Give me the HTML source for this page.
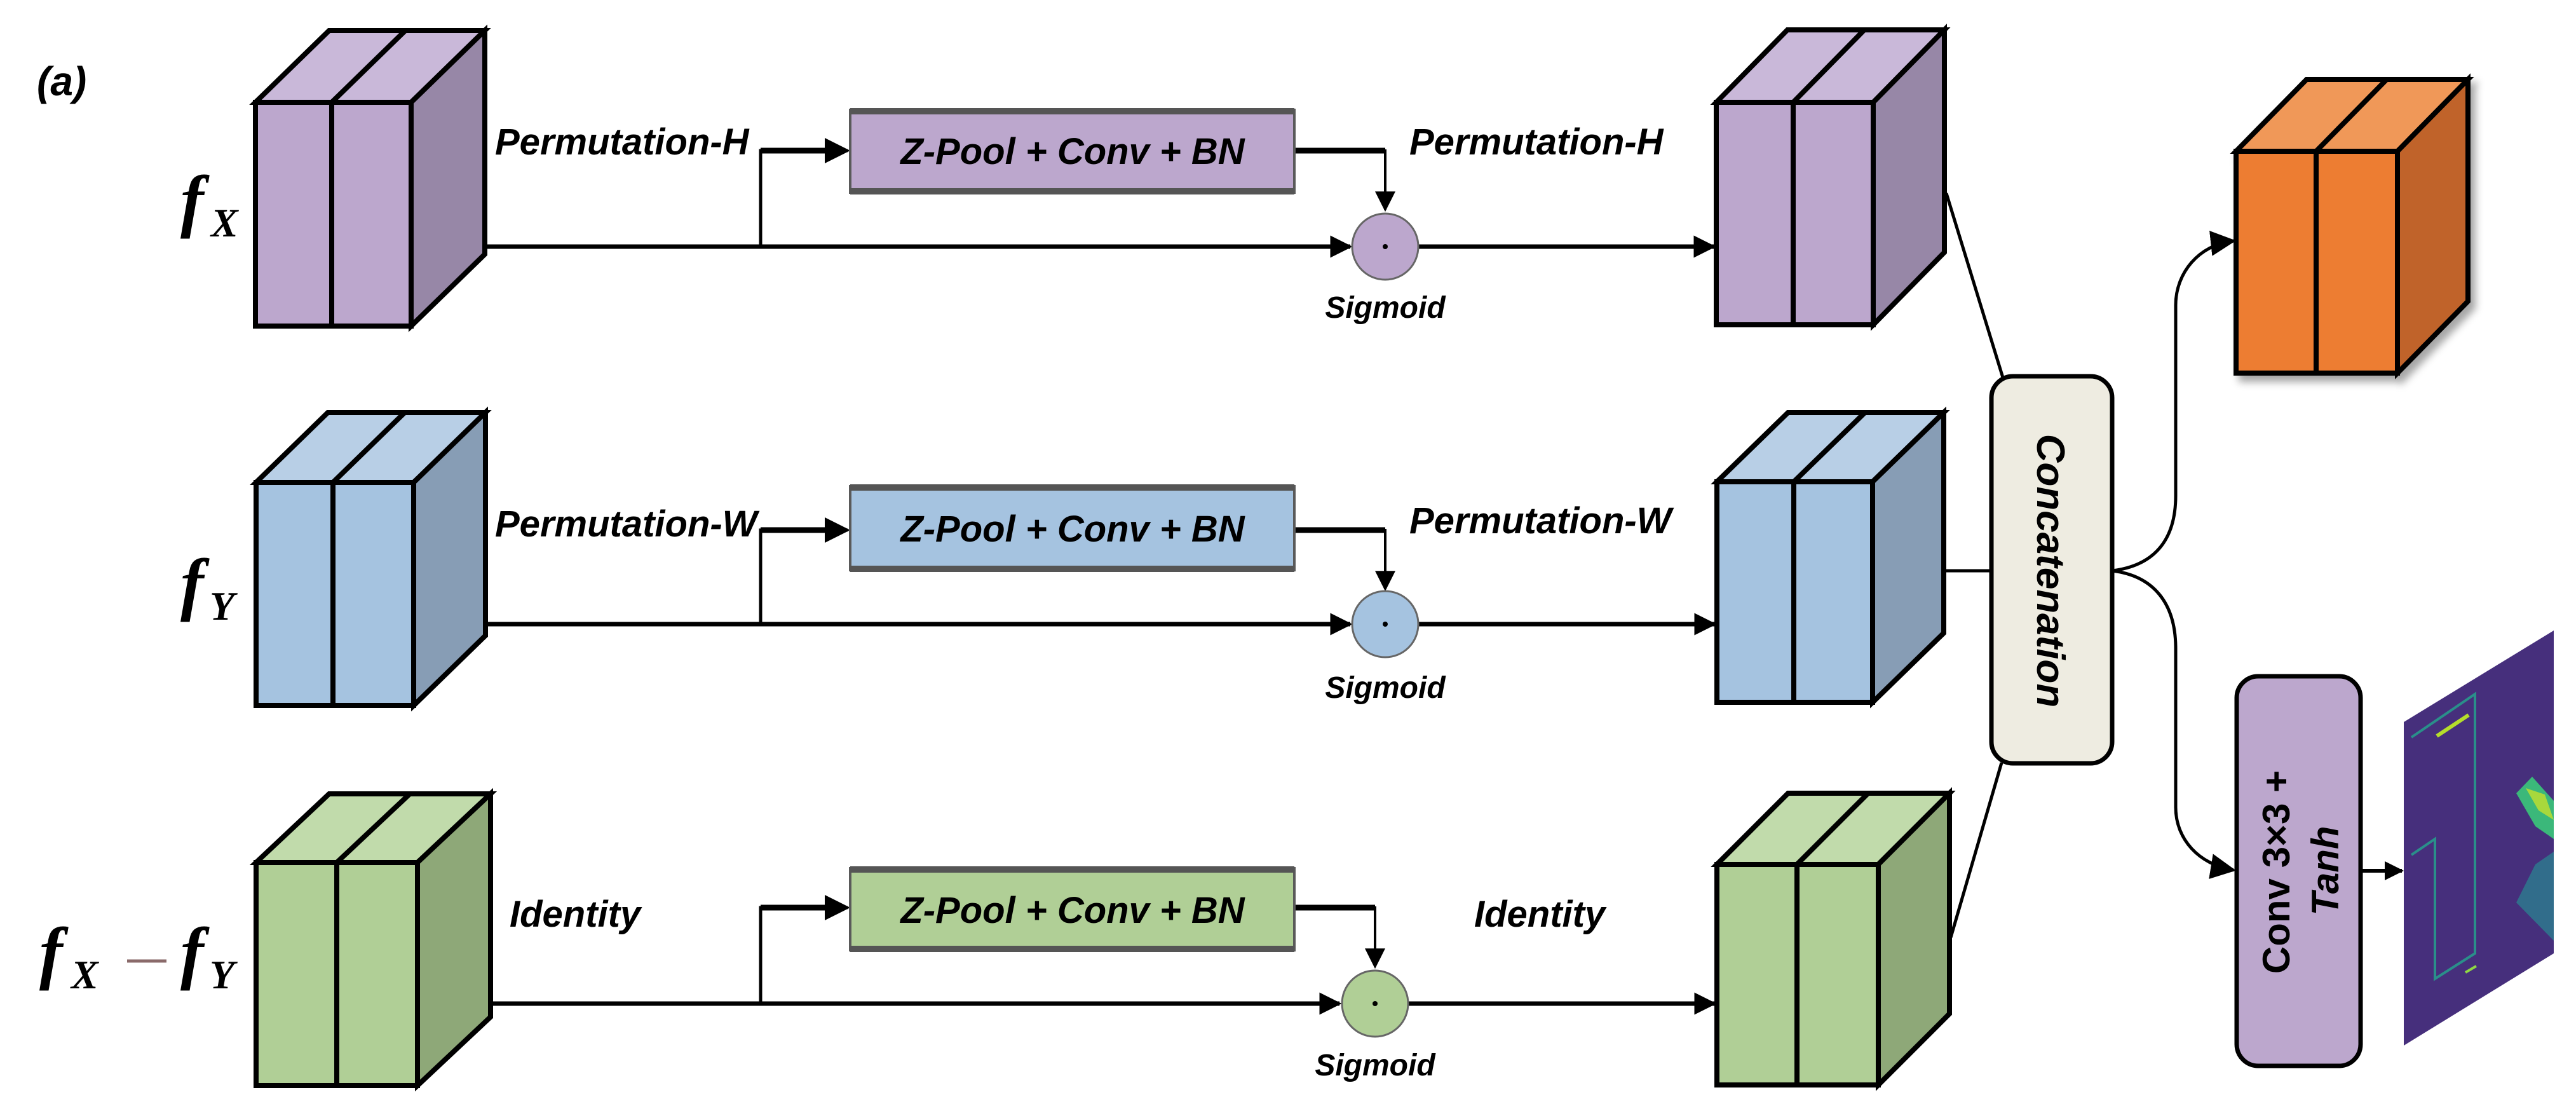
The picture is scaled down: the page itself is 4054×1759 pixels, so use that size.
<!DOCTYPE html>
<html><head><meta charset="utf-8"><style>
html,body{margin:0;padding:0;background:#fff;}
svg{display:block;}
text{font-family:"Liberation Sans",sans-serif;font-weight:bold;font-style:italic;fill:#000;}
.f{font-family:"Liberation Serif",serif;font-weight:bold;font-style:italic;}
</style></head><body>
<svg width="4054" height="1759" viewBox="0 0 4054 1759" xmlns="http://www.w3.org/2000/svg">
<defs>
<marker id="ah" viewBox="0 0 10 10" refX="9" refY="5" markerWidth="5" markerHeight="5" markerUnits="strokeWidth" orient="auto"><path d="M0,0 L10,5 L0,10 z" fill="#000"/></marker>
<marker id="ahs" viewBox="0 0 10 10" refX="9" refY="5" markerWidth="8" markerHeight="8" markerUnits="strokeWidth" orient="auto"><path d="M0,0 L10,5 L0,10 z" fill="#000"/></marker>
<filter id="sh" x="-10%" y="-10%" width="130%" height="130%"><feDropShadow dx="8" dy="10" stdDeviation="6" flood-color="#000" flood-opacity="0.35"/></filter>
</defs>

<text x="58" y="150" font-size="64">(a)</text>

<!-- input cubes -->
<g stroke="#000" stroke-width="8" stroke-linejoin="miter">
 <!-- A purple -->
 <polygon points="402,161 518,48 763,48 647,161" fill="#c9b8d9"/>
 <polygon points="647,161 763,48 763,400 647,513" fill="#9787a7"/>
 <rect x="402" y="161" width="245" height="352" fill="#bca7cd"/>
 <line x1="522" y1="161" x2="522" y2="513"/><line x1="522" y1="161" x2="638" y2="48"/>
 <!-- B blue -->
 <polygon points="403,759 516,649 764,649 651,759" fill="#b8cfe6"/>
 <polygon points="651,759 764,649 764,1000 651,1110" fill="#879db5"/>
 <rect x="403" y="759" width="248" height="351" fill="#a5c3e0"/>
 <line x1="524" y1="759" x2="524" y2="1110"/><line x1="524" y1="759" x2="637" y2="649"/>
 <!-- C green -->
 <polygon points="403,1357 518,1249 772,1249 657,1357" fill="#c1dbab"/>
 <polygon points="657,1357 772,1249 772,1600 657,1708" fill="#8ea878"/>
 <rect x="403" y="1357" width="254" height="351" fill="#b0cf96"/>
 <line x1="530" y1="1357" x2="530" y2="1708"/><line x1="530" y1="1357" x2="645" y2="1249"/>

 <!-- D purple out -->
 <polygon points="2701,161 2813,47 3060,47 2948,161" fill="#c9b8d9"/>
 <polygon points="2948,161 3060,47 3060,397 2948,511" fill="#9787a7"/>
 <rect x="2701" y="161" width="247" height="350" fill="#bca7cd"/>
 <line x1="2822" y1="161" x2="2822" y2="511"/><line x1="2822" y1="161" x2="2934" y2="47"/>
 <!-- E blue out -->
 <polygon points="2702,758 2814,649 3059,649 2947,758" fill="#b8cfe6"/>
 <polygon points="2947,758 3059,649 3059,996 2947,1105" fill="#879db5"/>
 <rect x="2702" y="758" width="245" height="347" fill="#a5c3e0"/>
 <line x1="2823" y1="758" x2="2823" y2="1105"/><line x1="2823" y1="758" x2="2935" y2="649"/>
 <!-- F green out -->
 <polygon points="2702,1360 2814,1248 3068,1248 2956,1360" fill="#c1dbab"/>
 <polygon points="2956,1360 3068,1248 3068,1595 2956,1707" fill="#8ea878"/>
 <rect x="2702" y="1360" width="254" height="347" fill="#b0cf96"/>
 <line x1="2828" y1="1360" x2="2828" y2="1707"/><line x1="2828" y1="1360" x2="2940" y2="1248"/>
 <!-- G orange -->
 <g filter="url(#sh)">
 <polygon points="3519,238 3630,125 3884,125 3773,238" fill="#f09858"/>
 <polygon points="3773,238 3884,125 3884,474 3773,587" fill="#c0632a"/>
 <rect x="3519" y="238" width="254" height="349" fill="#ed7d31"/>
 <line x1="3645" y1="238" x2="3645" y2="587"/><line x1="3645" y1="238" x2="3756" y2="125"/>
 </g>
</g>

<!-- labels f -->
<text class="f" x="284" y="352" font-size="110">f</text><text class="f" x="332" y="372" font-size="64">X</text>
<text class="f" x="284" y="955" font-size="110">f</text><text class="f" x="330" y="975" font-size="64">Y</text>
<text class="f" x="62" y="1535" font-size="110">f</text><text class="f" x="112" y="1555" font-size="64">X</text>
<line x1="200" y1="1512" x2="262" y2="1512" stroke="#8a6a6a" stroke-width="5"/>
<text class="f" x="284" y="1535" font-size="110">f</text><text class="f" x="330" y="1555" font-size="64">Y</text>

<!-- Rows -->
<g stroke="#000" fill="none">
 <!-- row1 -->
 <line x1="765" y1="388" x2="2125" y2="388" stroke-width="7" marker-end="url(#ah)"/>
 <polyline points="1197,388 1197,237 1334,237" stroke-width="5" marker-end="url(#ahs)"/>
 <polyline points="2037,237 2180,237 2180,330" stroke-width="4" marker-end="url(#ahs)"/>
 <line x1="2232" y1="388" x2="2697" y2="388" stroke-width="7" marker-end="url(#ah)"/>
 <line x1="2037" y1="237" x2="2180" y2="237" stroke-width="9"/>
 <line x1="1197" y1="237" x2="1300" y2="237" stroke-width="9"/>
 <!-- row2 -->
 <line x1="766" y1="982" x2="2125" y2="982" stroke-width="7" marker-end="url(#ah)"/>
 <polyline points="1197,982 1197,834 1334,834" stroke-width="5" marker-end="url(#ahs)"/>
 <polyline points="2037,834 2180,834 2180,927" stroke-width="4" marker-end="url(#ahs)"/>
 <line x1="2232" y1="982" x2="2698" y2="982" stroke-width="7" marker-end="url(#ah)"/>
 <line x1="2037" y1="834" x2="2180" y2="834" stroke-width="9"/>
 <line x1="1197" y1="834" x2="1300" y2="834" stroke-width="9"/>
 <!-- row3 -->
 <line x1="774" y1="1579" x2="2108" y2="1579" stroke-width="7" marker-end="url(#ah)"/>
 <polyline points="1197,1579 1197,1428 1334,1428" stroke-width="5" marker-end="url(#ahs)"/>
 <polyline points="2037,1428 2164,1428 2164,1521" stroke-width="4" marker-end="url(#ahs)"/>
 <line x1="2216" y1="1579" x2="2698" y2="1579" stroke-width="7" marker-end="url(#ah)"/>
 <line x1="2037" y1="1428" x2="2164" y2="1428" stroke-width="9"/>
 <line x1="1197" y1="1428" x2="1300" y2="1428" stroke-width="9"/>

 <!-- to concat -->
 <line x1="3063" y1="304" x2="3152" y2="594" stroke-width="5"/>
 <line x1="3061" y1="898" x2="3134" y2="898" stroke-width="5"/>
 <line x1="3150" y1="1200" x2="3070" y2="1475" stroke-width="5"/>
 <!-- branches -->
 <path d="M3324,898 C3390,890 3424,850 3424,780 L3424,480 C3424,430 3460,385 3515,379" stroke-width="5" marker-end="url(#ahs)"/>
 <path d="M3324,898 C3390,906 3424,950 3424,1020 L3424,1270 C3424,1320 3460,1360 3515,1369" stroke-width="5" marker-end="url(#ahs)"/>
 <line x1="3715" y1="1370" x2="3780" y2="1370" stroke-width="6" marker-end="url(#ah)"/>
</g>

<!-- Z-Pool boxes -->
<g stroke-width="0">
 <rect x="1338" y="173" width="699" height="130" fill="#bca7cd" stroke="#5a5a5a" stroke-width="4"/>
 <rect x="1338" y="170" width="699" height="10" fill="#555"/><rect x="1338" y="296" width="699" height="10" fill="#555"/>
 <rect x="1338" y="765" width="699" height="132" fill="#a5c3e0" stroke="#5a5a5a" stroke-width="4"/>
 <rect x="1338" y="762" width="699" height="10" fill="#555"/><rect x="1338" y="890" width="699" height="10" fill="#555"/>
 <rect x="1338" y="1366" width="699" height="129" fill="#b0cf96" stroke="#5a5a5a" stroke-width="4"/>
 <rect x="1338" y="1363" width="699" height="10" fill="#555"/><rect x="1338" y="1488" width="699" height="10" fill="#555"/>
</g>
<text x="1688" y="258" font-size="58" text-anchor="middle">Z-Pool + Conv + BN</text>
<text x="1688" y="852" font-size="58" text-anchor="middle">Z-Pool + Conv + BN</text>
<text x="1688" y="1452" font-size="58" text-anchor="middle">Z-Pool + Conv + BN</text>

<!-- circles -->
<g stroke="#666" stroke-width="3">
 <circle cx="2180" cy="388" r="52" fill="#bca7cd"/>
 <circle cx="2180" cy="982" r="52" fill="#a5c3e0"/>
 <circle cx="2164" cy="1579" r="52" fill="#b0cf96"/>
</g>
<g fill="#000"><circle cx="2180" cy="388" r="4"/><circle cx="2180" cy="982" r="4"/><circle cx="2164" cy="1579" r="4"/></g>
<text x="2180" y="500" font-size="48" text-anchor="middle">Sigmoid</text>
<text x="2180" y="1098" font-size="48" text-anchor="middle">Sigmoid</text>
<text x="2164" y="1692" font-size="48" text-anchor="middle">Sigmoid</text>

<text x="779" y="243" font-size="58">Permutation-H</text>
<text x="2218" y="243" font-size="58">Permutation-H</text>
<text x="779" y="844" font-size="58">Permutation-W</text>
<text x="2218" y="839" font-size="58">Permutation-W</text>
<text x="802" y="1458" font-size="58">Identity</text>
<text x="2320" y="1458" font-size="58">Identity</text>

<!-- concat -->
<rect x="3134" y="592" width="190" height="609" rx="34" fill="#eeece1" stroke="#000" stroke-width="7"/>
<text transform="translate(3206,898) rotate(90)" font-size="62" text-anchor="middle">Concatenation</text>

<!-- conv box -->
<rect x="3520" y="1064" width="195" height="613" rx="34" fill="#bca7cd" stroke="#000" stroke-width="7"/>
<text transform="translate(3603,1372) rotate(-90)" font-size="60" text-anchor="middle" style="font-style:normal">Conv 3×3 +</text>
<text transform="translate(3680,1370) rotate(-90)" font-size="60" text-anchor="middle">Tanh</text>

<!-- image -->
<polygon points="3783,1136 4019,992 4019,1500 3783,1645" fill="#462f7c"/>
<g fill="none" stroke-width="4">
 <polyline points="3795,1160 3895,1092 3895,1500 3832,1540 3832,1320 3795,1345" stroke="#2a8f8a"/>
 <line x1="3835" y1="1158" x2="3885" y2="1125" stroke="#b5de2b" stroke-width="6"/>
 <line x1="3880" y1="1530" x2="3897" y2="1520" stroke="#8fd744"/>
</g>
<polygon points="3960,1248 3985,1222 4019,1260 4019,1320 3990,1300" fill="#3bb87a"/>
<polygon points="3975,1240 4005,1250 4019,1290 3995,1275" fill="#a8d83c"/>
<polygon points="3990,1360 4019,1340 4019,1480 3960,1420" fill="#2c7d8e" opacity="0.8"/>
</svg>
</body></html>
